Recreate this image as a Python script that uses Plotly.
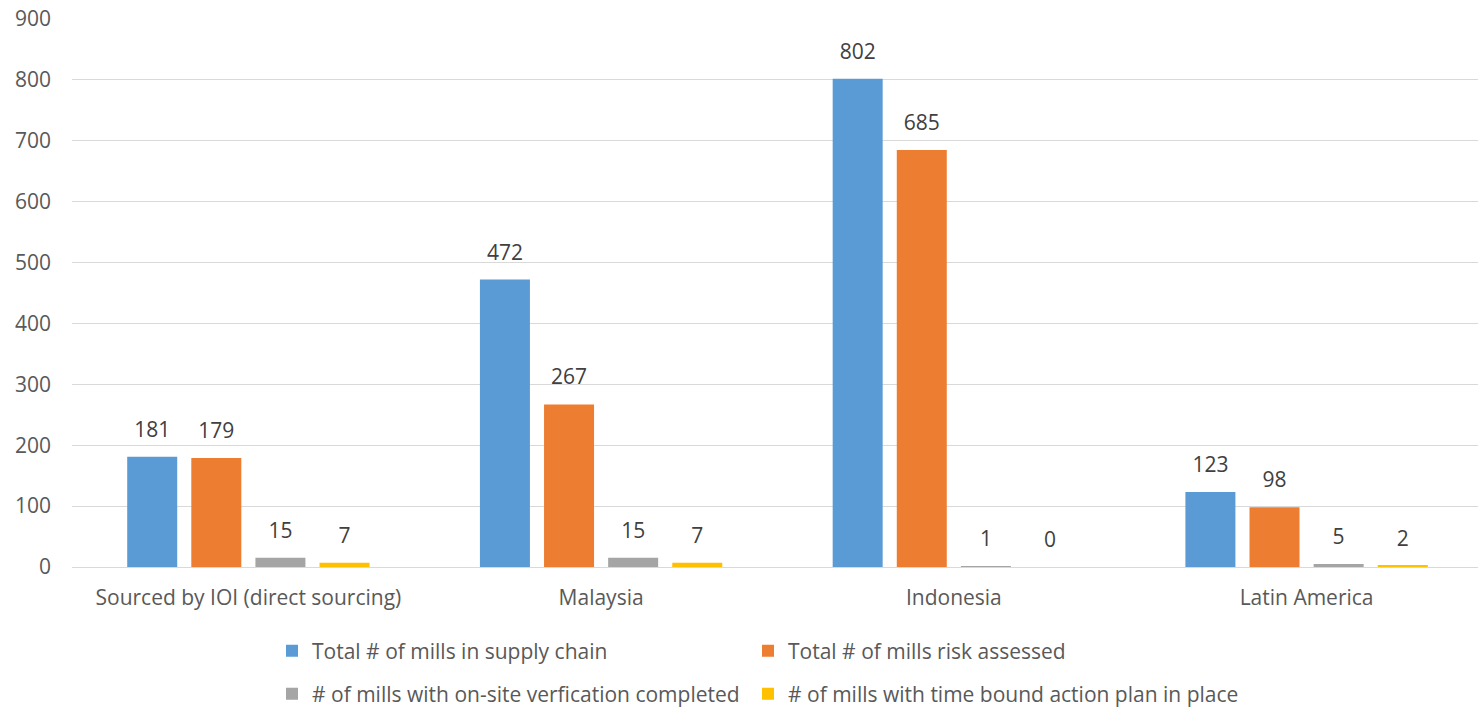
import plotly.graph_objects as go

categories = ["Sourced by IOI (direct sourcing)", "Malaysia", "Indonesia", "Latin America"]
series_names = [
    "Total # of mills in supply chain",
    "Total # of mills risk assessed",
    "# of mills with on-site verfication completed",
    "# of mills with time bound action plan in place",
]
total_mills = [181, 472, 802, 123]
risk_assessed = [179, 267, 685, 98]
onsite_verified = [15, 15, 1, 5]
action_plan = [7, 7, 0, 2]
y_ticks = [0, 100, 200, 300, 400, 500, 600, 700, 800, 900]

series_values = [total_mills, risk_assessed, onsite_verified, action_plan]
colors = ["#5B9BD5", "#ED7D31", "#A5A5A5", "#FFC000"]
legend_ids = ["legend", "legend2", "legend3", "legend4"]

FONT = "Open Sans"
TXT = "#595959"
FS = 21

fig = go.Figure()
for name, vals, col, lg in zip(series_names, series_values, colors, legend_ids):
    fig.add_trace(go.Bar(
        name=name, x=categories, y=vals, marker_color=col,
        marker_line_width=0, legend=lg, offsetgroup=name,
    ))
# data labels as grouped scatter text, aligned with bars
for name, vals in zip(series_names, series_values):
    fig.add_trace(go.Scatter(
        x=categories, y=vals, mode="markers+text", text=[str(v) for v in vals],
        textposition="top center", marker=dict(size=22, opacity=0),
        textfont=dict(family=FONT, size=FS, color="#404040"),
        showlegend=False, hoverinfo="skip", cliponaxis=False, offsetgroup=name,
    ))

W, H = 1478, 707


def legend_box(px, py):
    return dict(orientation="h", xref="container", yref="container",
                x=px / W, y=1 - py / H, xanchor="left", yanchor="middle",
                itemwidth=30, font=dict(size=FS, color=TXT),
                bgcolor="rgba(0,0,0,0)")


fig.update_layout(
    width=W, height=H,
    margin=dict(l=72, r=0, t=19, b=140),
    paper_bgcolor="white", plot_bgcolor="white",
    barmode="group", bargap=0.273, bargroupgap=0.22,
    scattermode="group", scattergap=0.273,
    font=dict(family=FONT, size=FS, color=TXT),
    xaxis=dict(range=[-0.5, 3.486], showgrid=False, showline=False, ticks="",
               tickfont=dict(size=FS, color=TXT), ticklabelstandoff=16),
    yaxis=dict(range=[0, 900], tickvals=y_ticks, showgrid=True, gridcolor="#D9D9D9",
               gridwidth=1, zeroline=True, zerolinecolor="#D9D9D9", zerolinewidth=1,
               showline=False, ticks="", tickfont=dict(size=FS, color=TXT),
               ticklabelstandoff=20),
    legend=legend_box(272, 651),
    legend2=legend_box(748, 651),
    legend3=legend_box(272, 694),
    legend4=legend_box(748, 694),
    showlegend=True,
)

fig.write_html("out.html", config={"displayModeBar": False},
               post_script="document.body.style.margin='0';")
